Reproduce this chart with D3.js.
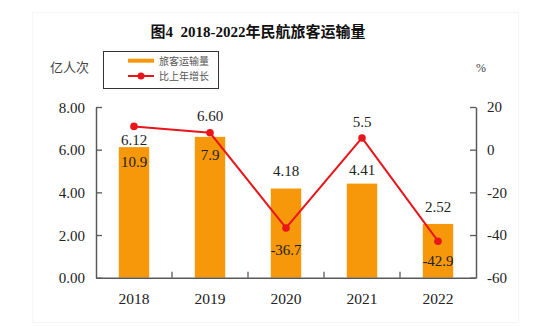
<!DOCTYPE html>
<html>
<head>
<meta charset="utf-8">
<script src="https://cdn.jsdelivr.net/npm/d3@7"></script>
<style>
  html, body { margin: 0; padding: 0; background: #fff; }
  svg { display: block; }
</style>
</head>
<body>
<script>
// ---- data ----
const years = ["2018", "2019", "2020", "2021", "2022"];
const passengers = [6.12, 6.60, 4.18, 4.41, 2.52];        // 亿人次
const growth = [10.9, 7.9, -36.7, 5.5, -42.9];             // %
const leftTicks = [0, 2, 4, 6, 8];
const rightTicks = [-60, -40, -20, 0, 20];
const title = "图4  2018-2022年民航旅客运输量";
const leftUnit = "亿人次";
const rightUnit = "%";
const legendLabels = ["旅客运输量", "比上年增长"];

// ---- layout / style ----
const W = 550, H = 327;
const plot = { left: 96, right: 476, top: 107, bottom: 277.7 };
const orange = "#F7980B", red = "#E8151B", axisColor = "#595959", textColor = "#222";
const numFont = "'Liberation Serif', 'Times New Roman', serif";
const cjkFont = "'Noto Sans CJK SC', sans-serif";
// label placement nudges (styling, px relative to mark)
const barLabelDy = [-7, -21, -18, -13.6, -17.3];
const lineLabelDy = [35.3, 21.5, 21.3, -16.3, 19.5];
const hyph = f => d => f(d).replace("\u2212", "-");

const svg = d3.select("body").append("svg").attr("width", W).attr("height", H);

// faint frame
svg.append("rect").attr("x", 32.5).attr("y", 12.5).attr("width", 486).attr("height", 310)
  .attr("fill", "none").attr("stroke", "#f5f5f5").attr("stroke-width", 1);

const x = d3.scaleBand().domain(years).range([plot.left, plot.right]).padding(0);
const yL = d3.scaleLinear().domain([0, 8]).range([plot.bottom, plot.top]);
const yR = d3.scaleLinear().domain([-60, 20]).range([plot.bottom, plot.top]);
const barW = x.bandwidth() * 0.4;

// title
svg.append("text").attr("x", 258).attr("y", 37).attr("text-anchor", "middle")
  .style("white-space", "pre")
  .attr("font-family", "'Liberation Serif', 'Noto Sans CJK SC', serif")
  .attr("font-weight", "bold").attr("font-size", 15).attr("fill", "#111").text(title);

// units
svg.append("text").attr("x", 50).attr("y", 72).attr("font-family", cjkFont)
  .attr("font-size", 13).attr("fill", "#444").text(leftUnit);
svg.append("text").attr("x", 476).attr("y", 72).attr("font-family", numFont)
  .attr("font-size", 12).attr("fill", "#444").text(rightUnit);

// legend
const lg = svg.append("g");
lg.append("rect").attr("x", 103.5).attr("y", 51.5).attr("width", 115).attr("height", 37)
  .attr("fill", "#fff").attr("stroke", "#333").attr("stroke-width", 1);
lg.append("rect").attr("x", 128).attr("y", 58.7).attr("width", 26).attr("height", 4).attr("fill", orange);
lg.append("line").attr("x1", 128).attr("x2", 154).attr("y1", 76).attr("y2", 76)
  .attr("stroke", red).attr("stroke-width", 2);
lg.append("circle").attr("cx", 141).attr("cy", 76).attr("r", 3.5).attr("fill", red);
lg.selectAll("text.lg").data(legendLabels).enter().append("text")
  .attr("x", 159).attr("y", (d, i) => 64.5 + i * 15.5)
  .attr("font-family", cjkFont).attr("font-size", 10).attr("fill", "#555").text(d => d);

// bars
svg.append("g").selectAll("rect").data(passengers).enter().append("rect")
  .attr("x", (d, i) => x(years[i]) + (x.bandwidth() - barW) / 2)
  .attr("y", d => yL(d)).attr("width", barW).attr("height", d => yL(0) - yL(d))
  .attr("fill", orange);

// axes
const axL = svg.append("g").attr("transform", `translate(${plot.left},0)`)
  .call(d3.axisLeft(yL).tickValues(leftTicks).tickFormat(d3.format(".2f")).tickSizeInner(-6).tickSizeOuter(0).tickPadding(11));
const axR = svg.append("g").attr("transform", `translate(${plot.right},0)`)
  .call(d3.axisRight(yR).tickValues(rightTicks).tickFormat(hyph(d3.format("d"))).tickSizeInner(-6).tickSizeOuter(0).tickPadding(11));
const axB = svg.append("g").attr("transform", `translate(0,${plot.bottom})`)
  .call(d3.axisBottom(x).tickSize(0).tickPadding(15));
// category separators on the bottom axis (inward ticks)
axB.selectAll("line.sep").data(years.slice(1)).enter().append("line").attr("class", "sep")
  .attr("x1", d => x(d)).attr("x2", d => x(d)).attr("y1", 0).attr("y2", -6);

[axL, axR, axB].forEach(a => {
  a.selectAll("path.domain").attr("stroke", axisColor).attr("stroke-width", 1.5);
  a.selectAll("line").attr("stroke", axisColor).attr("stroke-width", 1.3);
  a.selectAll("text").attr("font-family", numFont).attr("font-size", 15).attr("fill", textColor);
});
axL.selectAll(".tick text").attr("dy", "0.35em");
axB.selectAll(".tick text").attr("font-size", 15.5);

// line
const line = d3.line().x((d, i) => x(years[i]) + x.bandwidth() / 2).y(d => yR(d));
svg.append("path").datum(growth).attr("d", line).attr("fill", "none")
  .attr("stroke", red).attr("stroke-width", 2);
svg.append("g").selectAll("circle").data(growth).enter().append("circle")
  .attr("cx", (d, i) => x(years[i]) + x.bandwidth() / 2).attr("cy", d => yR(d))
  .attr("r", 3.8).attr("fill", red);

// bar value labels
svg.append("g").selectAll("text").data(passengers).enter().append("text")
  .attr("x", (d, i) => x(years[i]) + x.bandwidth() / 2)
  .attr("y", (d, i) => yL(d) + barLabelDy[i]).attr("dy", "0.35em")
  .attr("text-anchor", "middle").attr("font-family", numFont).attr("font-size", 15)
  .attr("fill", textColor).text(d => d3.format(".2f")(d));

// growth labels
svg.append("g").selectAll("text").data(growth).enter().append("text")
  .attr("x", (d, i) => x(years[i]) + x.bandwidth() / 2)
  .attr("y", (d, i) => yR(d) + lineLabelDy[i]).attr("dy", "0.35em")
  .attr("text-anchor", "middle").attr("font-family", numFont).attr("font-size", 15)
  .attr("fill", textColor).text(hyph(d3.format(".1f")));
</script>
</body>
</html>
